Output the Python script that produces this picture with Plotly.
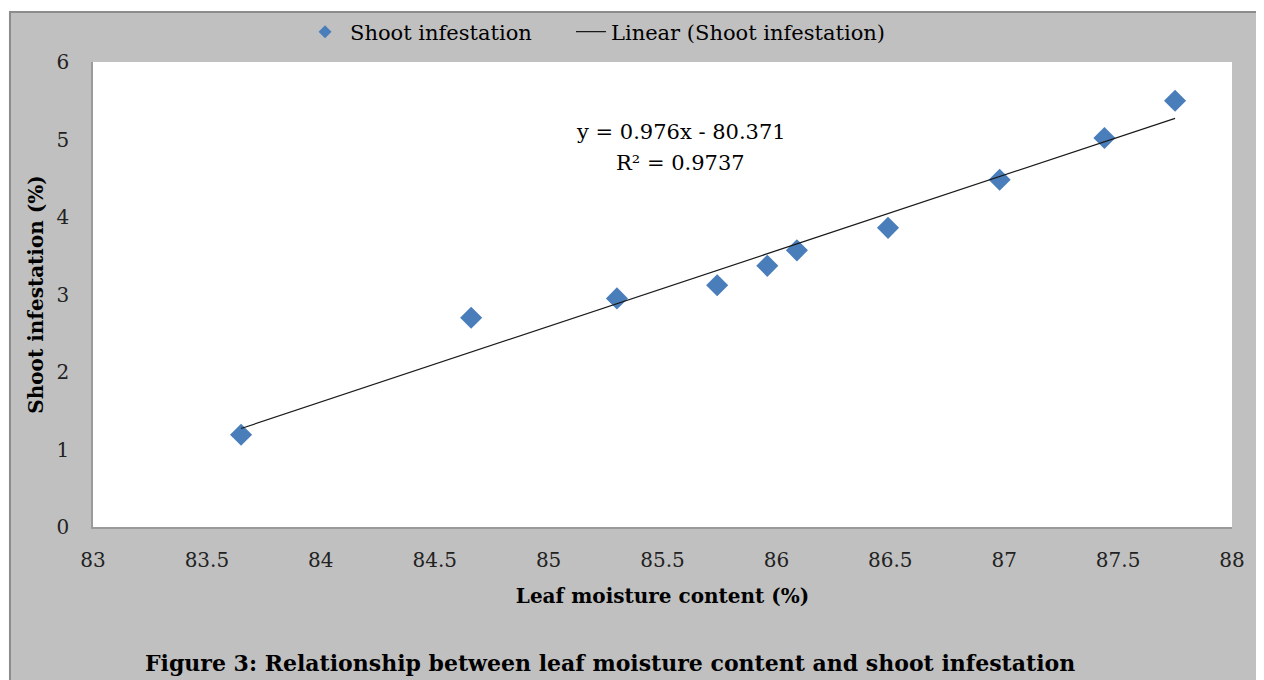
import plotly.graph_objects as go

# data
leaf_moisture = [83.65, 84.66, 85.30, 85.74, 85.96, 86.09, 86.49, 86.98, 87.44, 87.75]
shoot_infestation = [1.19, 2.70, 2.95, 3.12, 3.37, 3.57, 3.86, 4.48, 5.02, 5.50]

# trendline reported on the chart
slope = 0.976
intercept = -80.371
r_squared = 0.9737

x_ticks = [83, 83.5, 84, 84.5, 85, 85.5, 86, 86.5, 87, 87.5, 88]
y_ticks = [0, 1, 2, 3, 4, 5, 6]

FONT = "DejaVu Serif, serif"
BLUE = "#4a7ebb"

trend_x = [min(leaf_moisture), max(leaf_moisture)]
trend_y = [slope * v + intercept for v in trend_x]

fig = go.Figure()
fig.add_trace(
    go.Scatter(
        x=leaf_moisture,
        y=shoot_infestation,
        mode="markers",
        showlegend=False,
        marker={"symbol": "diamond", "size": 17, "color": BLUE},
    )
)
fig.add_trace(
    go.Scatter(
        x=trend_x,
        y=trend_y,
        mode="lines",
        showlegend=False,
        line={"color": "#1a1a1a", "width": 1.2},
    )
)
# legend entries (small symbols like the original), one legend box each
fig.add_trace(
    go.Scatter(
        x=[None], y=[None], mode="markers", name="Shoot infestation",
        marker={"symbol": "diamond", "size": 10, "color": BLUE},
        legend="legend",
    )
)
fig.add_trace(
    go.Scatter(
        x=[None], y=[None], mode="lines", name="Linear (Shoot infestation)",
        line={"color": "#1a1a1a", "width": 1.2},
        legend="legend2",
    )
)

# grey chart frame with the white plot area on top
fig.add_shape(
    type="rect", xref="paper", yref="paper",
    x0=-0.0729, x1=1.05, y0=-0.4, y1=1.1075,
    fillcolor="#c0c0c0", line={"color": "#8c8c8c", "width": 2},
    layer="below",
)
fig.add_shape(
    type="rect", xref="paper", yref="paper",
    x0=0, x1=1, y0=0, y1=1,
    fillcolor="#ffffff", line={"width": 0},
    layer="below",
)

# equation annotation
fig.add_annotation(
    x=85.58, y=5.10, text="y = %.3fx - %.3f" % (slope, -intercept),
    showarrow=False, font={"size": 21, "color": "#000000", "family": FONT},
)
fig.add_annotation(
    x=85.58, y=4.70, text="R² = %.4f" % r_squared,
    showarrow=False, font={"size": 21, "color": "#000000", "family": FONT},
)

# figure caption
fig.add_annotation(
    xref="paper", yref="paper", x=0.454, y=-0.2925, yanchor="middle",
    text="<b>Figure 3: Relationship between leaf moisture content and shoot infestation</b>",
    showarrow=False, font={"size": 22, "color": "#000000", "family": FONT},
)

legend_style = {
    "orientation": "h",
    "xref": "container", "yref": "container",
    "y": 0.9643, "yanchor": "middle", "xanchor": "left",
    "bgcolor": "rgba(0,0,0,0)",
    "font": {"size": 21, "family": FONT},
}

fig.update_layout(
    width=1248,
    height=672,
    paper_bgcolor="#ffffff",
    plot_bgcolor="#ffffff",
    margin={"l": 85, "r": 24, "t": 54, "b": 153, "autoexpand": False},
    font={"family": FONT, "size": 20, "color": "#000000"},
    showlegend=True,
    legend=dict(legend_style, x=0.234, itemwidth=40),
    legend2=dict(legend_style, x=0.4511),
    xaxis={
        "range": [83, 88],
        "tickvals": x_ticks,
        "showgrid": False,
        "zeroline": False,
        "showline": True,
        "linecolor": "#9a9a9a",
        "linewidth": 1.5,
        "ticks": "",
        "ticklabelstandoff": 14,
        "tickfont": {"size": 20, "color": "#222222"},
        "title": {
            "text": "<b>Leaf moisture content (%)</b>",
            "font": {"size": 20},
            "standoff": 18,
        },
    },
    yaxis={
        "range": [0, 6],
        "tickvals": y_ticks,
        "showgrid": False,
        "zeroline": False,
        "showline": True,
        "linecolor": "#9a9a9a",
        "linewidth": 1.5,
        "ticks": "",
        "ticklabelstandoff": 18,
        "tickfont": {"size": 20, "color": "#222222"},
        "title": {
            "text": "<b>Shoot infestation (%)</b>",
            "font": {"size": 20},
            "standoff": 8,
        },
    },
)

fig.write_html("out.html")
